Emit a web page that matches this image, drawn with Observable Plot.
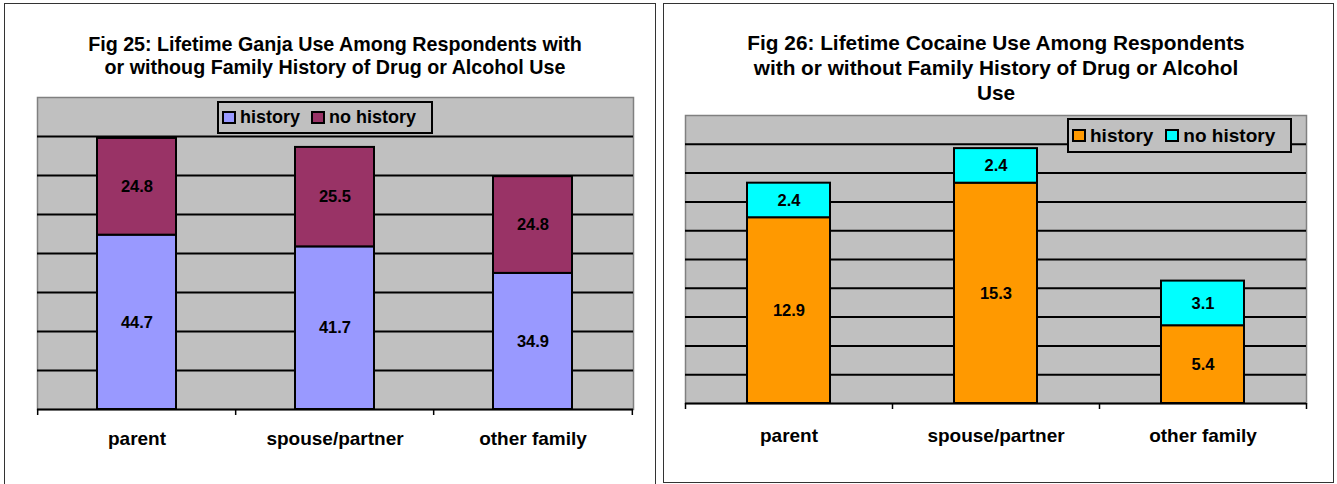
<!DOCTYPE html>
<html>
<head>
<meta charset="utf-8">
<script src="https://cdn.jsdelivr.net/npm/d3@7"></script>
<script src="https://cdn.jsdelivr.net/npm/@observablehq/plot@0.6"></script>
<style>
  html, body { margin: 0; padding: 0; background: #fff; }
  body { position: relative; width: 1337px; height: 484px; overflow: hidden;
         font-family: "Liberation Sans", Arial, sans-serif; color: #000; }
  .panel { position: absolute; border: 1px solid #333; box-sizing: border-box; }
  .title { position: absolute; text-align: center; font-weight: bold; white-space: nowrap; }
  .chart { position: absolute; left: 0; top: 0; }
  .legend { position: absolute; box-sizing: border-box; border: 2px solid #000; background: #c0c0c0;
            font-weight: bold; display: flex; align-items: center; white-space: nowrap; }
  .sw { display: inline-block; box-sizing: border-box; width: 14px; height: 13px; border: 2px solid #000; }
</style>
</head>
<body>
<div class="panel" style="left:4px; top:3px; width:652px; height:484px;"></div>
<div class="panel" style="left:663px; top:3px; width:671px; height:480px;"></div>
<div id="t1" class="title" style="left:35px; width:600px; top:33px; font-size:19.7px; line-height:23px;"></div>
<div id="t2" class="title" style="left:696px; width:600px; top:30px; font-size:20.8px; line-height:25px;"></div>
<div id="c1" class="chart"></div>
<div id="c2" class="chart"></div>
<div id="l1" class="legend" style="left:217px; top:101px; width:216px; height:33px; font-size:18px;"></div>
<div id="l2" class="legend" style="left:1067px; top:118px; width:225px; height:35px; font-size:19px;"></div>
<script>
// ---- data ----
const categories = ["parent", "spouse/partner", "other family"];
const series = ["history", "no history"];
const ganjaHistory = [44.7, 41.7, 34.9];
const ganjaNoHistory = [24.8, 25.5, 24.8];
const cocaineHistory = [12.9, 15.3, 5.4];
const cocaineNoHistory = [2.4, 2.4, 3.1];
const ganjaGrid = [10, 20, 30, 40, 50, 60, 70];
const cocaineGrid = [2, 4, 6, 8, 10, 12, 14, 16, 18];
const ganjaColors = ["#9999ff", "#993366"];
const cocaineColors = ["#ff9900", "#00ffff"];
const title1 = ["Fig 25: Lifetime Ganja Use Among Respondents with", "or withoug Family History of Drug or Alcohol Use"];
const title2 = ["Fig 26: Lifetime Cocaine Use Among Respondents", "with or without Family History of Drug or Alcohol", "Use"];

function rows(hist, nohist) {
  return [
    ...categories.map((c, i) => ({category: c, series: series[0], value: hist[i]})),
    ...categories.map((c, i) => ({category: c, series: series[1], value: nohist[i]}))
  ];
}

function chart({data, colors, yMax, grid, ml, mr, mt, mb, pad}) {
  const W = 1337, H = 484;
  const plotW = W - ml - mr, plotH = H - mt - mb;
  const step = plotW / categories.length;
  return Plot.plot({
    width: W, height: H,
    marginLeft: ml, marginRight: mr, marginTop: mt, marginBottom: mb,
    style: {background: "transparent", fontFamily: "'Liberation Sans', Arial, sans-serif",
            fontWeight: "bold", color: "#000", overflow: "visible"},
    x: {domain: categories, paddingInner: 0.6, paddingOuter: 0.3},
    y: {domain: [0, yMax], axis: null},
    color: {domain: series, range: colors},
    marks: [
      Plot.frame({fill: "#c0c0c0", stroke: "#808080", strokeWidth: 1.5}),
      Plot.ruleY(grid, {stroke: "#000", strokeWidth: 2}),
      Plot.barY(data, {x: "category", y: "value", fill: "series", stroke: "#000", strokeWidth: 2}),
      Plot.text(data, Plot.stackY({x: "category", y: "value", z: "series",
        text: d => d.value.toFixed(1), fill: "#000", fontSize: 16.5, fontWeight: "bold"})),
      Plot.ruleY([0], {stroke: "#000", strokeWidth: 2}),
      Plot.ruleX(categories, {x: d => d, dx: -step / 2, insetTop: plotH, insetBottom: -6, stroke: "#000", strokeWidth: 1.5}),
      Plot.ruleX(categories.slice(-1), {x: d => d, dx: step / 2, insetTop: plotH, insetBottom: -6, stroke: "#000", strokeWidth: 1.5}),
      Plot.axisX({tickSize: 0, tickPadding: pad, fontSize: 19, label: null, fill: "#000"})
    ]
  });
}

document.getElementById("c1").append(chart({
  data: rows(ganjaHistory, ganjaNoHistory), colors: ganjaColors, yMax: 80, grid: ganjaGrid,
  ml: 37, mr: 1337 - 633, mt: 97, mb: 484 - 409, pad: 21.5
}));
document.getElementById("c2").append(chart({
  data: rows(cocaineHistory, cocaineNoHistory), colors: cocaineColors, yMax: 20, grid: cocaineGrid,
  ml: 685, mr: 1337 - 1306, mt: 115, mb: 484 - 403, pad: 24.5
}));

function setTitle(id, lines) {
  const el = document.getElementById(id);
  lines.forEach((t, i) => { if (i) el.append(document.createElement("br")); el.append(t); });
}
setTitle("t1", title1);
setTitle("t2", title2);

function legend(id, colors, gapText) {
  const el = document.getElementById(id);
  series.forEach((s, i) => {
    const sw = document.createElement("span");
    sw.className = "sw";
    sw.style.background = colors[i];
    sw.style.marginLeft = i ? gapText + "px" : "3px";
    sw.style.marginRight = "4px";
    el.append(sw, document.createTextNode(s));
  });
}
legend("l1", ganjaColors, 11);
legend("l2", cocaineColors, 12);
</script>
</body>
</html>
